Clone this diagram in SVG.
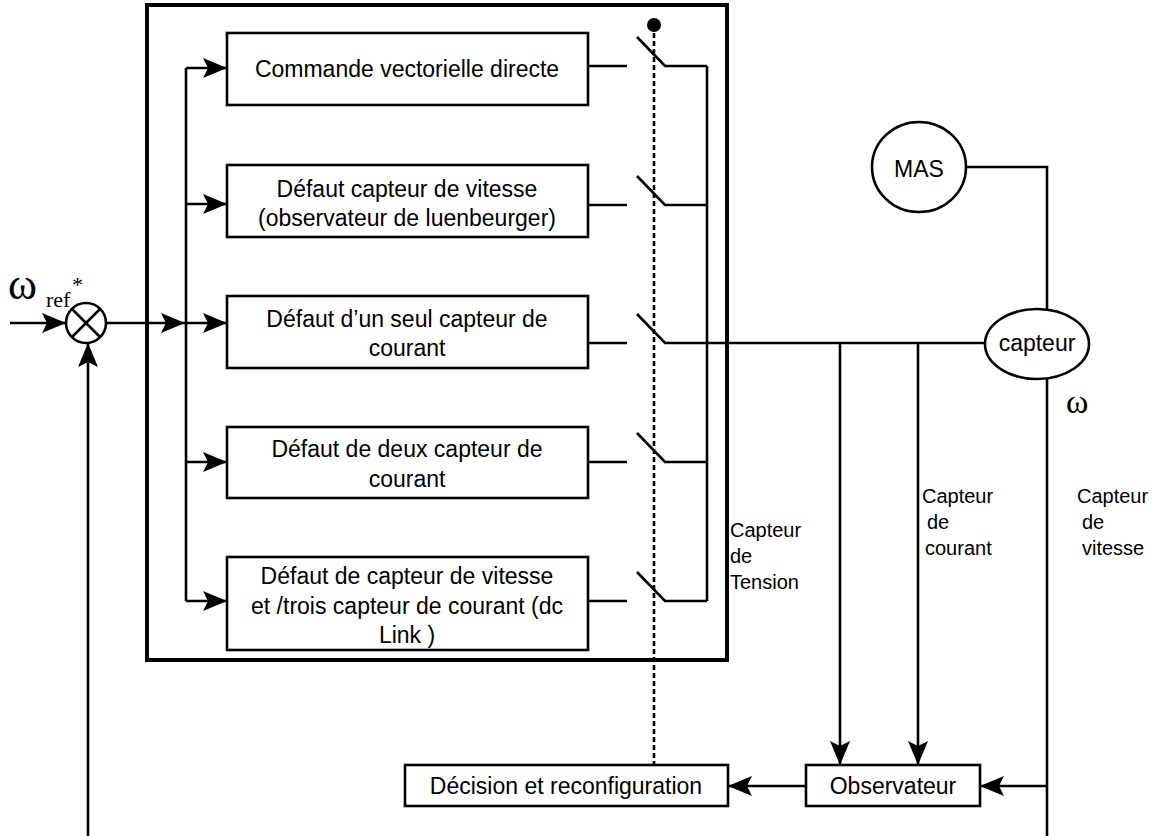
<svg xmlns="http://www.w3.org/2000/svg" width="1165" height="836" viewBox="0 0 1165 836">
<style>
.ln{fill:none;stroke:#000;stroke-width:2.6}
.bx{fill:#fff;stroke:#000;stroke-width:2.6}
.t{font-family:"Liberation Sans",Arial,sans-serif;font-size:23px;fill:#000;text-anchor:middle}
.tl{font-family:"Liberation Sans",Arial,sans-serif;font-size:20px;fill:#000}
.g{font-family:"Liberation Serif","Times New Roman",serif;fill:#000}
</style>
<defs>
<marker id="ar" viewBox="0 0 24 20" refX="24" refY="10" markerWidth="24" markerHeight="20" markerUnits="userSpaceOnUse" orient="auto">
<path d="M0,0 L24,10 L0,20 L5,10 Z" fill="#000"/>
</marker>
</defs>
<rect width="1165" height="836" fill="#fff"/>
<g id="main-box"><rect x="147" y="5" width="580" height="655" fill="none" stroke="#000" stroke-width="4"/></g>
<g id="connectors">
<line class="ln" x1="10" y1="323" x2="66" y2="323" marker-end="url(#ar)"/>
<line class="ln" x1="106" y1="323" x2="185" y2="323" marker-end="url(#ar)"/>
<line class="ln" x1="88" y1="836" x2="88" y2="343" marker-end="url(#ar)"/>
<line class="ln" x1="186" y1="68" x2="186" y2="601"/>
<line class="ln" x1="186" y1="68" x2="227" y2="68" marker-end="url(#ar)"/>
<line class="ln" x1="186" y1="204" x2="227" y2="204" marker-end="url(#ar)"/>
<line class="ln" x1="186" y1="323" x2="227" y2="323" marker-end="url(#ar)"/>
<line class="ln" x1="186" y1="462" x2="227" y2="462" marker-end="url(#ar)"/>
<line class="ln" x1="186" y1="601" x2="227" y2="601" marker-end="url(#ar)"/>
<path class="ln" d="M588,66 H627 M637,37 L665,66 H707"/>
<path class="ln" d="M588,205 H627 M637,176 L665,205 H707"/>
<path class="ln" d="M588,343 H627 M637,314 L665,343 H985"/>
<path class="ln" d="M588,462 H627 M637,433 L665,462 H707"/>
<path class="ln" d="M588,601 H627 M637,572 L665,601 H707"/>
<line class="ln" x1="707" y1="66" x2="707" y2="601"/>
<line x1="654" y1="25" x2="654" y2="780" stroke="#000" stroke-width="2.6" stroke-dasharray="5,3"/>
<circle cx="654" cy="25" r="7" fill="#000"/>
<circle cx="654" cy="780" r="7" fill="#000"/>
<path class="ln" d="M966,167 H1047 V309"/>
<line class="ln" x1="1047" y1="379" x2="1047" y2="836"/>
<line class="ln" x1="1047" y1="786" x2="980" y2="786" marker-end="url(#ar)"/>
<line class="ln" x1="806" y1="786" x2="728" y2="786" marker-end="url(#ar)"/>
<line class="ln" x1="840" y1="343" x2="840" y2="765" marker-end="url(#ar)"/>
<line class="ln" x1="918" y1="343" x2="918" y2="765" marker-end="url(#ar)"/>
</g>
<g id="sum">
<circle cx="86" cy="323" r="20" fill="#fff" stroke="#000" stroke-width="2.6"/>
<path class="ln" d="M72,309 L100,337 M100,309 L72,337"/>
</g>
<g id="wref">
<text class="g" x="8" y="299" font-size="44">ω</text>
<text class="g" x="46" y="307" font-size="22">ref</text>
<text class="g" x="72" y="292" font-size="22">*</text>
</g>
<g id="b1"><rect class="bx" x="227" y="33" width="361" height="72"/><text class="t" x="407" y="77">Commande vectorielle directe</text></g>
<g id="b2"><rect class="bx" x="227" y="165" width="361" height="72"/><text class="t" x="407" y="197">Défaut capteur de vitesse</text><text class="t" x="407" y="226">(observateur de luenbeurger)</text></g>
<g id="b3"><rect class="bx" x="227" y="296" width="361" height="72"/><text class="t" x="407" y="327">Défaut d’un seul capteur de</text><text class="t" x="407" y="356">courant</text></g>
<g id="b4"><rect class="bx" x="227" y="427" width="361" height="71"/><text class="t" x="407" y="457">Défaut de deux capteur de</text><text class="t" x="407" y="487">courant</text></g>
<g id="b5"><rect class="bx" x="227" y="557" width="361" height="93"/><text class="t" x="407" y="584">Défaut de capteur de vitesse</text><text class="t" x="407" y="614">et /trois capteur de courant (dc</text><text class="t" x="407" y="643">Link )</text></g>
<g id="decision"><rect class="bx" x="405" y="765" width="323" height="41"/><text class="t" x="566" y="794">Décision et reconfiguration</text></g>
<g id="observateur"><rect class="bx" x="806" y="765" width="174" height="41"/><text class="t" x="893" y="794">Observateur</text></g>
<g id="mas"><ellipse cx="919" cy="167" rx="47" ry="45" fill="#fff" stroke="#000" stroke-width="2.6"/><text class="t" x="919" y="177" font-size="26">MAS</text></g>
<g id="capteur"><ellipse cx="1037" cy="344" rx="52" ry="35" fill="#fff" stroke="#000" stroke-width="2.6"/><text class="t" x="1037" y="351" font-size="21">capteur</text></g>
<text class="g" x="1066" y="413" font-size="34">ω</text>
<g id="lbl-tension"><text class="tl" x="730" y="537">Capteur</text><text class="tl" x="730" y="563">de</text><text class="tl" x="730" y="589">Tension</text></g>
<g id="lbl-courant"><text class="tl" x="922" y="503">Capteur</text><text class="tl" x="927" y="529">de</text><text class="tl" x="925" y="555">courant</text></g>
<g id="lbl-vitesse"><text class="tl" x="1077" y="503">Capteur</text><text class="tl" x="1082" y="529">de</text><text class="tl" x="1082" y="555">vitesse</text></g>
</svg>
